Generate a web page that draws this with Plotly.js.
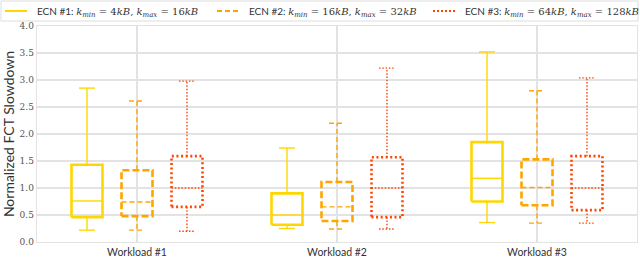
<!DOCTYPE html>
<html>
<head>
<meta charset="utf-8">
<script src="https://cdn.plot.ly/plotly-3.0.1.min.js"></script>
<style>html,body{margin:0;padding:0;background:#fff;}#chart{width:640px;height:261px;}</style>
</head>
<body>
<div id="chart"></div>
<script>
const categories = ['Workload #1', 'Workload #2', 'Workload #3'];
const seriesLabels = [
  'ECN #1: <span style="font-family:\'DejaVu Serif\'"><i>k<sub>min</sub></i> = 4<i>kB</i>, <i>k<sub>max</sub></i> = 16<i>kB</i></span>',
  'ECN #2: <span style="font-family:\'DejaVu Serif\'"><i>k<sub>min</sub></i> = 16<i>kB</i>, <i>k<sub>max</sub></i> = 32<i>kB</i></span>',
  'ECN #3: <span style="font-family:\'DejaVu Serif\'"><i>k<sub>min</sub></i> = 64<i>kB</i>, <i>k<sub>max</sub></i> = 128<i>kB</i></span>'
];
// five-number summaries per workload
const ecn1Lower  = [0.22, 0.25, 0.36];
const ecn1Q1     = [0.46, 0.32, 0.75];
const ecn1Median = [0.76, 0.50, 1.18];
const ecn1Q3     = [1.43, 0.90, 1.85];
const ecn1Upper  = [2.85, 1.74, 3.52];

const ecn2Lower  = [0.22, 0.24, 0.35];
const ecn2Q1     = [0.48, 0.39, 0.68];
const ecn2Median = [0.74, 0.65, 1.01];
const ecn2Q3     = [1.33, 1.11, 1.53];
const ecn2Upper  = [2.61, 2.20, 2.80];

const ecn3Lower  = [0.20, 0.24, 0.35];
const ecn3Q1     = [0.65, 0.46, 0.59];
const ecn3Median = [1.00, 1.00, 1.00];
const ecn3Q3     = [1.59, 1.57, 1.59];
const ecn3Upper  = [2.98, 3.22, 3.04];

const series = [
  {lower: ecn1Lower, q1: ecn1Q1, med: ecn1Median, q3: ecn1Q3, upper: ecn1Upper},
  {lower: ecn2Lower, q1: ecn2Q1, med: ecn2Median, q3: ecn2Q3, upper: ecn2Upper},
  {lower: ecn3Lower, q1: ecn3Q1, med: ecn3Median, q3: ecn3Q3, upper: ecn3Upper}
];
const colors = ['#FFD700', '#FFA500', '#FF4500'];
const boxDash = ['solid', '7px,3px', '2px,2.6px'];
const thinDash = ['solid', '5px,3px', '1.5px,1.8px'];
const legendDash = ['solid', '5px,3px', '2px,2px'];
const offsets = [-0.25, 0, 0.25];
const halfW = 0.0775;
const capHalf = 0.04;

const traces = [];
series.forEach((s, si) => {
  const bx = [], by = [], wx = [], wy = [];
  categories.forEach((c, ci) => {
    const x = ci + offsets[si];
    bx.push(x - halfW, x + halfW, x + halfW, x - halfW, x - halfW, null);
    by.push(s.q1[ci], s.q1[ci], s.q3[ci], s.q3[ci], s.q1[ci], null);
    wx.push(x - halfW, x + halfW, null);
    wy.push(s.med[ci], s.med[ci], null);
    wx.push(x, x, null, x - capHalf, x + capHalf, null);
    wy.push(s.q3[ci], s.upper[ci], null, s.upper[ci], s.upper[ci], null);
    wx.push(x, x, null, x - capHalf, x + capHalf, null);
    wy.push(s.q1[ci], s.lower[ci], null, s.lower[ci], s.lower[ci], null);
  });
  traces.push({
    type: 'scatter', mode: 'lines', x: bx, y: by, name: seriesLabels[si],
    showlegend: false, hoverinfo: 'skip',
    line: {color: colors[si], width: 2.6, dash: boxDash[si]}
  });
  traces.push({
    type: 'scatter', mode: 'lines', x: wx, y: wy, name: seriesLabels[si],
    showlegend: false, hoverinfo: 'skip',
    line: {color: colors[si], width: 1.4, dash: thinDash[si]}
  });
});

// Manual legend placed in paper coordinates (converted from pixel layout)
const W = 640, H = 261, ML = 37, MR = 3, MT = 26, MB = 19;
const pw = W - ML - MR, ph = H - MT - MB;
const px = v => (v - ML) / pw;
const py = v => (H - MB - v) / ph;
const itemStarts = [5, 217, 433];
const shapes = [{
  type: 'rect', xref: 'paper', yref: 'paper',
  x0: px(1), x1: px(638), y0: py(21), y1: py(1),
  line: {color: '#dddddd', width: 1}, fillcolor: 'rgba(255,255,255,0.9)', layer: 'above'
}];
const annotations = [];
itemStarts.forEach((st, i) => {
  shapes.push({
    type: 'line', xref: 'paper', yref: 'paper',
    x0: px(st), x1: px(st + 22), y0: py(11), y1: py(11),
    line: {color: colors[i], width: 2, dash: legendDash[i]}
  });
  annotations.push({
    xref: 'paper', yref: 'paper', x: px(st + 30), y: py(11.5),
    xanchor: 'left', yanchor: 'middle', showarrow: false,
    text: seriesLabels[i],
    font: {family: 'Lato, "DejaVu Sans", sans-serif', size: 10, color: '#333'}
  });
});

const layout = {
  width: W, height: H,
  margin: {l: ML, r: MR, t: MT, b: MB},
  paper_bgcolor: '#fff', plot_bgcolor: '#fff',
  font: {family: 'Lato, "DejaVu Sans", sans-serif', size: 10, color: '#333'},
  showlegend: false,
  shapes: shapes,
  annotations: annotations,
  xaxis: {
    range: [-0.5, 2.5], tickvals: [0, 1, 2], ticktext: categories,
    showgrid: true, gridcolor: '#e3e3e3', gridwidth: 1.3,
    zeroline: false, showline: true, mirror: true, linecolor: '#e3e3e3', linewidth: 1.3,
    ticks: '', tickfont: {family: 'Lato, "DejaVu Sans", sans-serif', size: 10.5, color: '#333'},
    fixedrange: true
  },
  yaxis: {
    range: [0, 4], tickvals: [0, 0.5, 1, 1.5, 2, 2.5, 3, 3.5, 4],
    tickformat: '.1f',
    showgrid: true, gridcolor: '#e3e3e3', gridwidth: 1.3,
    zeroline: false, showline: true, mirror: true, linecolor: '#e3e3e3', linewidth: 1.3,
    ticks: '', ticklabelstandoff: 0,
    tickfont: {family: '"DejaVu Serif", serif', size: 9, color: '#555'},
    title: {text: 'Normalized FCT Slowdown', standoff: 3,
            font: {family: 'Lato, "DejaVu Sans", sans-serif', size: 14, color: '#333'}},
    fixedrange: true
  }
};

Plotly.newPlot('chart', traces, layout, {displayModeBar: false, staticPlot: true});
</script>
</body>
</html>
